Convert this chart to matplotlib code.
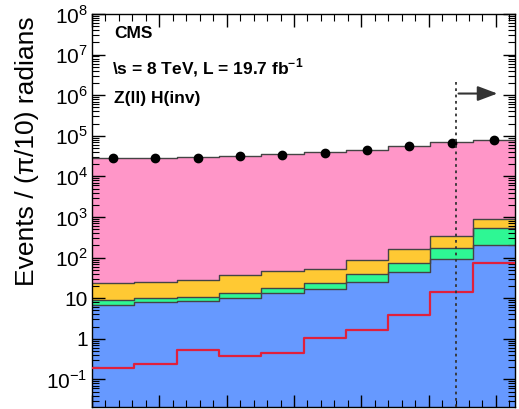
import numpy as np
import matplotlib
matplotlib.use('Agg')
import matplotlib.pyplot as plt
from matplotlib.ticker import FixedLocator, FixedFormatter, MultipleLocator

plt.rcParams['font.family'] = ['Liberation Sans', 'DejaVu Sans']
plt.rcParams['mathtext.fontset'] = 'custom'
plt.rcParams['mathtext.rm'] = 'Liberation Sans'
plt.rcParams['mathtext.bf'] = 'Liberation Sans:bold'

# 10 bins of pi/10 in delta phi
edges = np.linspace(0, np.pi, 11)
centers = 0.5 * (edges[:-1] + edges[1:])

# stacked backgrounds: cumulative tops
blue_top   = [6.9, 8.1, 8.4, 10.4, 13.2, 16.6, 25, 44, 93, 203]
green_top  = [8.9, 10.4, 11, 13.8, 17.5, 24, 38.6, 75, 174, 536]
yellow_top = [24.2, 25.5, 27.5, 36.6, 46.8, 53, 90, 159, 339, 870]
pink_top   = [29000, 28800, 29500, 32000, 35500, 39500, 46000, 57000, 70000, 80000]

data   = [28400, 28400, 28400, 31200, 34400, 37800, 43800, 55000, 66500, 77100]
signal = [0.197, 0.247, 0.533, 0.38, 0.46, 1.05, 1.66, 3.87, 14.2, 75]

cut = 0.86 * np.pi

fig = plt.figure(figsize=(5.19, 4.09), dpi=100)
ax = fig.add_axes([92/519, 1 - 407/409, 423/519, 393/409])

ymin = 0.021
layers = [(pink_top, '#ff96c8'), (yellow_top, '#ffc933'),
          (green_top, '#2ef794'), (blue_top, '#6699ff')]
for top, col in layers:
    y = np.append(top, top[-1])
    ax.fill_between(edges, ymin, y, step='post', color=col, lw=0, zorder=1)
    ax.step(edges, y, where='post', color='#444444', lw=1.0, zorder=2)

ax.step(edges, np.append(signal, signal[-1]), where='post', color='#e0203c', lw=1.6, zorder=3)

ax.plot(centers, data, 'o', color='black', ms=6, zorder=4)

ax.plot([cut, cut], [ymin, 2.2e6], ls=(0, (1.5, 2)), color='#333333', lw=1.3, zorder=5)
ax.annotate('', xy=(0.965*np.pi, 1.1e6), xytext=(cut, 1.1e6),
            arrowprops=dict(arrowstyle='-|>,head_length=1.2,head_width=0.45',
                            color='#333333', lw=1.5), zorder=5)

ax.set_yscale('log')
ax.set_ylim(ymin, 1e8)
ax.set_xlim(0, np.pi)

yt = [1e-1, 1, 10, 1e2, 1e3, 1e4, 1e5, 1e6, 1e7, 1e8]
ylab = ['$10^{-1}$', '1', '10', '$10^{2}$', '$10^{3}$', '$10^{4}$',
        '$10^{5}$', '$10^{6}$', '$10^{7}$', '$10^{8}$']
ax.yaxis.set_major_locator(FixedLocator(yt))
ax.yaxis.set_major_formatter(FixedFormatter(ylab))
ax.yaxis.set_minor_locator(matplotlib.ticker.LogLocator(base=10, subs=np.arange(2, 10), numticks=20))
ax.yaxis.set_minor_formatter(matplotlib.ticker.NullFormatter())
ax.xaxis.set_major_locator(MultipleLocator(0.5))
ax.xaxis.set_minor_locator(MultipleLocator(0.1))
ax.tick_params(which='both', direction='in', top=True, right=True, labelbottom=False)
ax.tick_params(which='major', length=9, width=1, labelsize=15, pad=3)
ax.tick_params(which='minor', length=5, width=0.8)
for s in ax.spines.values():
    s.set_linewidth(1.0)

ax.set_ylabel('Events / (π/10) radians', fontsize=19)
ax.yaxis.set_label_coords(-0.125, 0.65)

fig.text(114/519, 1 - 33/409, 'CMS', fontsize=12.5, fontweight='bold', va='center')
fig.text(112/519, 1 - 68/409, r'\s = 8 TeV, L = 19.7 fb$^{\mathbf{-1}}$', fontsize=12.5,
         fontweight='bold', va='center')
fig.text(114/519, 1 - 99/409, 'Z(ll) H(inv)', fontsize=12.5, fontweight='bold', va='center')

fig.savefig('out.png', dpi=100)
